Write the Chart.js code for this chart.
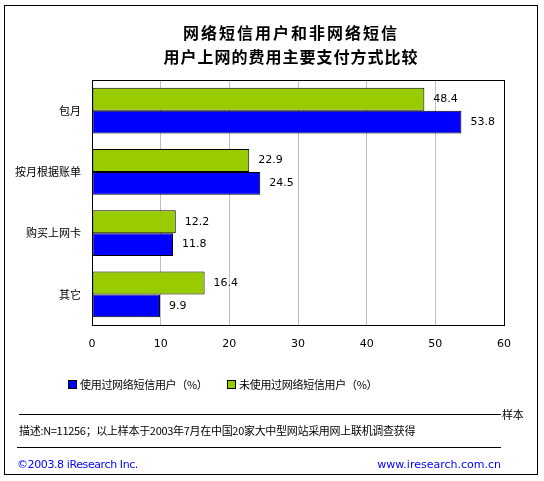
<!DOCTYPE html>
<html>
<head>
<meta charset="utf-8">
<script src="https://cdn.jsdelivr.net/npm/chart.js@4/dist/chart.umd.min.js"></script>
<style>
  body { margin:0; background:#fff; font-family:"Noto Sans CJK SC", sans-serif; }
  #wrap { position:relative; width:544px; height:481px; }
  #c { position:absolute; left:0; top:0; }
  .frame { position:absolute; left:4px; top:5px; width:534px; height:470px; border:1px solid #000; box-sizing:border-box; }
  .t { position:absolute; white-space:nowrap; line-height:1; }
  .title { left:0; width:582px; text-align:center; font-weight:bold; font-size:16px; color:#000; }
  .sw { position:absolute; width:7px; height:7px; border:1px solid #000; }
  .hr { position:absolute; height:0; border-top:1px solid #000; }
  .small { font-size:11px; color:#000; letter-spacing:-0.3px; }
  .blue { color:#0000ff; font-family:"DejaVu Sans", sans-serif; font-size:11px; }
</style>
</head>
<body>
<div id="wrap">
  <canvas id="c" width="544" height="481"></canvas>
  <div class="frame"></div>
  <div class="t title" style="top:24px;letter-spacing:2px;">网络短信用户和非网络短信</div>
  <div class="t title" style="top:48px;letter-spacing:1px;">用户上网的费用主要支付方式比较</div>
  <div id="legend"></div>
  <div class="hr" style="left:19px;top:414px;width:482px;"></div>
  <div class="t small" style="left:502px;top:409px;">样本</div>
  <div class="t small" style="left:19px;top:425px;">描述:N=11256；以上样本于2003年7月在中国20家大中型网站采用网上联机调查获得</div>
  <div class="hr" style="left:17px;top:447px;width:484px;"></div>
  <div class="t blue" style="left:17px;top:459px;letter-spacing:-0.4px;">©2003.8 iResearch Inc.</div>
  <div class="t blue" style="right:43px;top:459px;">www.iresearch.com.cn</div>
</div>
<script>
// data
const categories = ["包月", "按月根据账单", "购买上网卡", "其它"];
const usedSms    = [53.8, 24.5, 11.8, 9.9];
const notUsedSms = [48.4, 22.9, 12.2, 16.4];
const xTicks     = [0, 10, 20, 30, 40, 50, 60];
const seriesNames = ["使用过网络短信用户（%）", "未使用过网络短信用户（%）"];
const blue = "#0000ff", green = "#99cc00";

// html legend, blue first like the original
const lg = document.getElementById("legend");
[[blue, seriesNames[0], 68], [green, seriesNames[1], 227]].forEach(function (it) {
  lg.innerHTML += '<div class="sw" style="left:' + it[2] + 'px;top:380px;background:' + it[0] + ';"></div>' +
    '<div class="t small" style="left:' + (it[2] + 12) + 'px;top:379px;">' + it[1] + '</div>';
});

const valueLabels = {
  id: "valueLabels",
  afterDatasetsDraw(chart) {
    const ctx = chart.ctx;
    ctx.save();
    ctx.font = "11px 'DejaVu Sans', sans-serif";
    ctx.fillStyle = "#000";
    ctx.textBaseline = "middle";
    chart.data.datasets.forEach(function (ds, i) {
      chart.getDatasetMeta(i).data.forEach(function (bar, j) {
        ctx.fillText(ds.data[j].toFixed(1), bar.x + 9, bar.y);
      });
    });
    ctx.restore();
  }
};

const plotBox = {
  id: "plotBox",
  afterDraw(chart) {
    const a = chart.chartArea, ctx = chart.ctx;
    ctx.save();
    ctx.strokeStyle = "#000";
    ctx.lineWidth = 1;
    ctx.strokeRect(Math.round(a.left) + 0.5, Math.round(a.top) + 0.5, Math.round(a.right - a.left), Math.round(a.bottom - a.top));
    ctx.restore();
  }
};

new Chart(document.getElementById("c"), {
  type: "bar",
  data: {
    labels: categories,
    datasets: [
      { label: seriesNames[1], data: notUsedSms, backgroundColor: green, borderColor: "#000", borderWidth: 1, borderSkipped: false },
      { label: seriesNames[0], data: usedSms, backgroundColor: blue, borderColor: "#000", borderWidth: 1, borderSkipped: false }
    ]
  },
  options: {
    indexAxis: "y",
    responsive: false,
    animation: false,
    devicePixelRatio: 1,
    layout: { padding: { left: 12, right: 40, top: 80, bottom: 126 } },
    categoryPercentage: 0.75,
    barPercentage: 1,
    plugins: { legend: { display: false }, tooltip: { enabled: false } },
    scales: {
      x: {
        min: 0, max: 60,
        afterBuildTicks: function (s) { s.ticks = xTicks.map(function (v) { return { value: v }; }); },
        afterFit: function (s) { s.height = 30; },
        grid: { color: "#c0c0c0", drawTicks: false },
        border: { color: "#000" },
        ticks: { padding: 13, color: "#000", font: { family: "'DejaVu Sans', sans-serif", size: 11 } }
      },
      y: {
        afterFit: function (s) { s.width = 80; },
        grid: { display: false, drawTicks: false },
        border: { color: "#000" },
        ticks: { padding: 11, color: "#000", font: { family: "'Noto Sans CJK SC', sans-serif", size: 11 } }
      }
    }
  },
  plugins: [valueLabels, plotBox]
});
</script>
</body>
</html>
